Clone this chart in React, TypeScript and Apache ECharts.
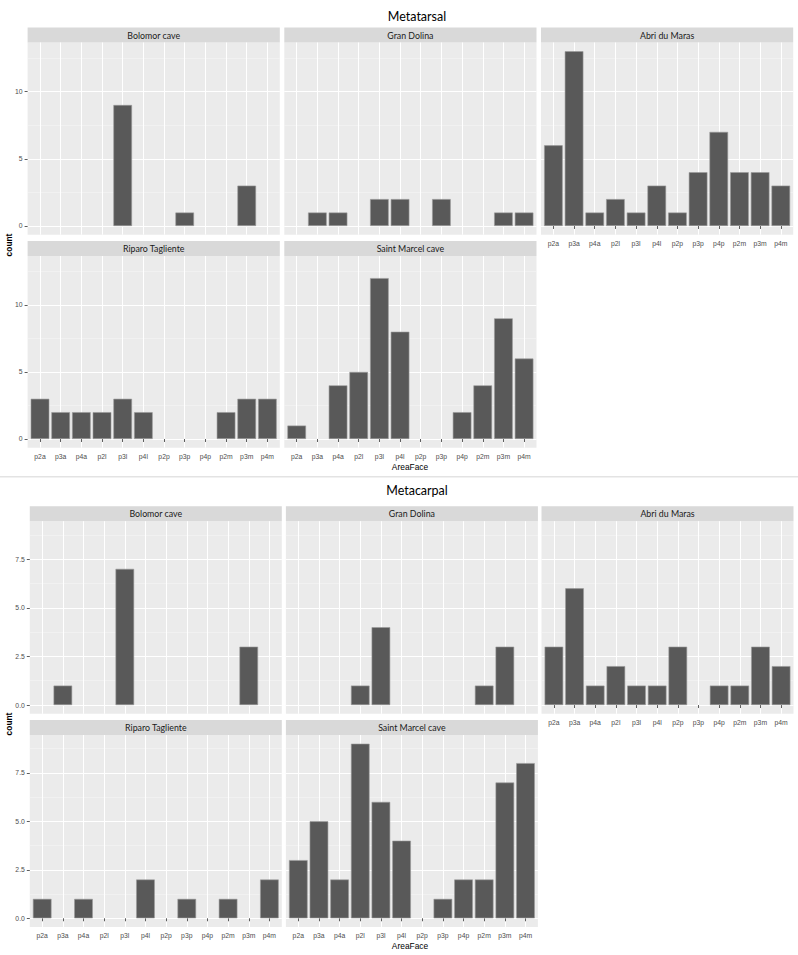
import React, { useEffect, useRef } from "react";
import * as echarts from "echarts";

const CATEGORIES = ["p2a", "p3a", "p4a", "p2l", "p3l", "p4l", "p2p", "p3p", "p4p", "p2m", "p3m", "p4m"];
const SITES = ["Bolomor cave", "Gran Dolina", "Abri du Maras", "Riparo Tagliente", "Saint Marcel cave"];

// Metatarsal counts per site (order of CATEGORIES)
const MT_BOLOMOR = [0, 0, 0, 0, 9, 0, 0, 1, 0, 0, 3, 0];
const MT_GRAN_DOLINA = [0, 1, 1, 0, 2, 2, 0, 2, 0, 0, 1, 1];
const MT_ABRI_DU_MARAS = [6, 13, 1, 2, 1, 3, 1, 4, 7, 4, 4, 3];
const MT_RIPARO = [3, 2, 2, 2, 3, 2, 0, 0, 0, 2, 3, 3];
const MT_SAINT_MARCEL = [1, 0, 4, 5, 12, 8, 0, 0, 2, 4, 9, 6];

// Metacarpal counts per site
const MC_BOLOMOR = [0, 1, 0, 0, 7, 0, 0, 0, 0, 0, 3, 0];
const MC_GRAN_DOLINA = [0, 0, 0, 1, 4, 0, 0, 0, 0, 1, 3, 0];
const MC_ABRI_DU_MARAS = [3, 6, 1, 2, 1, 1, 3, 0, 1, 1, 3, 2];
const MC_RIPARO = [1, 0, 1, 0, 0, 2, 0, 1, 0, 1, 0, 2];
const MC_SAINT_MARCEL = [3, 5, 2, 9, 6, 4, 0, 1, 2, 2, 7, 8];

const MT_Y_TICKS = [0, 5, 10];
const MT_Y_MINOR = [2.5, 7.5, 12.5];
const MC_Y_TICKS = [0, 2.5, 5, 7.5];
const MC_Y_MINOR = [1.25, 3.75, 6.25, 8.75];

const FIGURES = [
  {
    title: "Metatarsal",
    titleTop: 5,
    data: [MT_BOLOMOR, MT_GRAN_DOLINA, MT_ABRI_DU_MARAS, MT_RIPARO, MT_SAINT_MARCEL],
    yTicks: MT_Y_TICKS,
    yMinor: MT_Y_MINOR,
    digits: 0,
    cols: [27.6, 284.3, 541],
    width: 252.2,
    rows: [
      { top: 42.5, bottom: 234.7 },
      { top: 256, bottom: 447.7 },
    ],
    countY: 245,
    areaY: 467,
  },
  {
    title: "Metacarpal",
    titleTop: 479,
    data: [MC_BOLOMOR, MC_GRAN_DOLINA, MC_ABRI_DU_MARAS, MC_RIPARO, MC_SAINT_MARCEL],
    yTicks: MC_Y_TICKS,
    yMinor: MC_Y_MINOR,
    digits: 1,
    cols: [29.8, 285.9, 541.5],
    width: 252,
    rows: [
      { top: 521.2, bottom: 713.8 },
      { top: 735, bottom: 927 },
    ],
    countY: 724,
    areaY: 946,
  },
];

const STRIP_H = 15;
const X_POS = CATEGORIES.map((_, i) => i + 1);

export default function App() {
  const ref = useRef<HTMLDivElement>(null);

  useEffect(() => {
    if (!ref.current) return;
    const chart = echarts.init(ref.current, undefined, { renderer: "svg" });

    const grids: any[] = [];
    const xAxes: any[] = [];
    const yAxes: any[] = [];
    const series: any[] = [];
    const graphics: any[] = [];
    const titles: any[] = [];

    FIGURES.forEach((fig) => {
      const maxV = Math.max(...fig.data.map((d) => Math.max(...d)));
      const yMin = -0.05 * maxV;
      const yMax = 1.05 * maxV;
      const unit = fig.width / 12.2;
      const barW = unit * 0.9;

      titles.push({
        text: fig.title,
        left: 412,
        top: fig.titleTop,
        textAlign: "center",
        textStyle: { fontFamily: "Lato", fontSize: 12.5, fontWeight: "normal", color: "#000" },
      });

      fig.data.forEach((vals, i) => {
        const row = Math.floor(i / 3);
        const col = i % 3;
        const left = fig.cols[col];
        const top = fig.rows[row].top;
        const height = fig.rows[row].bottom - top;
        const gi = grids.length;
        const showX = row === 1 || i + 3 >= fig.data.length;
        const showY = col === 0;

        grids.push({
          left,
          top,
          width: fig.width,
          height,
          show: true,
          backgroundColor: "#EBEBEB",
          borderWidth: 0,
        });

        xAxes.push({
          gridIndex: gi,
          type: "value",
          min: 0.4,
          max: 12.6,
          axisLine: { show: false },
          axisTick: {
            show: showX,
            length: 3,
            customValues: X_POS,
            lineStyle: { color: "#333333", width: 0.8 },
          },
          axisLabel: {
            show: showX,
            customValues: X_POS,
            formatter: (v: number) => CATEGORIES[Math.round(v) - 1] || "",
            color: "#4D4D4D",
            fontSize: 6.8,
            fontFamily: "Liberation Sans",
            margin: 5,
          },
          splitLine: { show: true, lineStyle: { color: "#FFFFFF", width: 1 } },
        });

        const yi = yAxes.length;
        yAxes.push({
          gridIndex: gi,
          type: "value",
          min: yMin,
          max: yMax,
          axisLine: { show: false },
          axisTick: {
            show: showY,
            length: 3,
            customValues: fig.yTicks,
            lineStyle: { color: "#333333", width: 0.8 },
          },
          axisLabel: {
            show: showY,
            customValues: fig.yTicks,
            formatter: (v: number) => v.toFixed(fig.digits),
            color: "#4D4D4D",
            fontSize: 6.8,
            fontFamily: "Liberation Sans",
            margin: 5,
          },
          splitLine: { show: true, lineStyle: { color: "#FFFFFF", width: 1.1 } },
        });
        yAxes.push({
          gridIndex: gi,
          type: "value",
          position: "left",
          min: yMin,
          max: yMax,
          axisLine: { show: false },
          axisTick: { show: false, customValues: fig.yMinor },
          axisLabel: { show: false },
          splitLine: { show: true, lineStyle: { color: "#F5F5F5", width: 0.6 } },
        });

        series.push({
          type: "bar",
          xAxisIndex: gi,
          yAxisIndex: yi,
          barWidth: barW,
          silent: true,
          data: vals.map((v, k) => [X_POS[k], v]).filter((d) => d[1] > 0),
          itemStyle: { color: "#595959", borderColor: "#9A9A9A", borderWidth: 0.6 },
        });

        const stripTop = top - STRIP_H;
        graphics.push({
          type: "rect",
          silent: true,
          shape: { x: left, y: stripTop, width: fig.width, height: STRIP_H },
          style: { fill: "#D9D9D9" },
        });
        graphics.push({
          type: "text",
          silent: true,
          x: left + fig.width / 2,
          y: stripTop + STRIP_H / 2,
          style: {
            text: SITES[i],
            align: "center",
            verticalAlign: "middle",
            fontSize: 8.8,
            fontFamily: "Lato",
            fill: "#1A1A1A",
          },
        });
      });

      graphics.push({
        type: "text",
        silent: true,
        x: 9,
        y: fig.countY,
        rotation: Math.PI / 2,
        style: {
          text: "count",
          align: "center",
          verticalAlign: "middle",
          fontSize: 8.4,
          fontWeight: "bold",
          fontFamily: "Liberation Sans",
          fill: "#000",
        },
      });
      graphics.push({
        type: "text",
        silent: true,
        x: 410,
        y: fig.areaY,
        style: {
          text: "AreaFace",
          align: "center",
          verticalAlign: "middle",
          fontSize: 8.4,
          fontFamily: "Liberation Sans",
          fill: "#000",
        },
      });
    });

    graphics.push({
      type: "rect",
      silent: true,
      shape: { x: 0, y: 476, width: 798, height: 1.5 },
      style: { fill: "#E3E3E3" },
    });

    chart.setOption({
      animation: false,
      backgroundColor: "#FFFFFF",
      title: titles,
      grid: grids,
      xAxis: xAxes,
      yAxis: yAxes,
      series,
      graphic: graphics,
    });

    return () => chart.dispose();
  }, []);

  return (
    <div
      ref={ref}
      style={{ position: "fixed", left: 0, top: 0, width: 798, height: 955 }}
    />
  );
}
